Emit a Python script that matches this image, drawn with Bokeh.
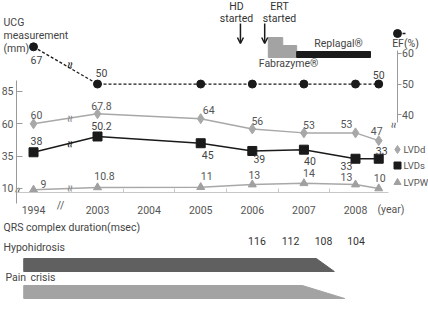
import math
from bokeh.plotting import figure
from bokeh.models import Range1d, LinearAxis, FixedTicker, Arrow, OpenHead
from bokeh.core.properties import value
from bokeh.embed import file_html
from bokeh.resources import INLINE

# ---------------- data ----------------
years = [1994, 2003, 2005, 2006, 2007, 2008, 2008.45]
ef = [67, 50, 50, 50, 50, 50, 50]
ef_labelled = [True, True, False, False, False, False, True]
lvdd = [60, 67.8, 64, 56, 53, 53, 47]
lvds = [38, 50.2, 45, 39, 40, 33, 33]
lvpw = [9, 10.8, 11, 13, 14, 13, 10]
axis_years = [1994, 2003, 2004, 2005, 2006, 2007, 2008]
lv_ticks = [10, 35, 60, 85]
ef_ticks = [40, 50, 60]
qrs = [116, 112, 108, 104]
qrs_years = [2006.09, 2006.74, 2007.38, 2008.01]
hd_start = 2005.77
ert_start = 2006.24
fabrazyme = [2006.31, 2006.59, 2006.86]   # start, dose step, switch
replagal = [2006.86, 2008.29]
timeline_start = 2001.57
hypohidrosis_end = [2007.24, 2007.59]
pain_end = [2006.97, 2007.79]

# ---------------- axis breaks ----------------
def xpos(y):
    return y if y >= 2003 else 2003 - 1.24

def efpos(v):
    return v if v <= 60 else 60 + (v - 60) * 0.3

FNAME = "Roboto"
FONT = value(FNAME)
FS = "10.5px"
X0, PXX = 2001.12, 51.6

p = figure(width=428, height=311, x_range=Range1d(X0, X0 + 428 / PXX),
           y_range=Range1d(-85.15, 155.38), x_axis_type=None, y_axis_type=None,
           toolbar_location=None, output_backend="svg", min_border=0,
           outline_line_color=None)
p.extra_y_ranges = {"ef": Range1d(-23.97, 77.17), "px": Range1d(311, 0)}
p.extra_x_ranges = {"pxx": Range1d(0, 428)}

def style_axis(a):
    a.axis_line_color = "#9a9a9a"
    a.major_tick_line_color = "#9a9a9a"
    a.minor_tick_line_color = None
    a.major_label_text_color = "#555555"
    a.major_label_text_font = FNAME
    a.major_label_text_font_size = FS

ly = LinearAxis(fixed_location=X0 + 16 / PXX, bounds=(-1.6, 93.5),
                ticker=FixedTicker(ticks=lv_ticks))
style_axis(ly)
ly.major_tick_in = 6
ly.major_tick_out = 0
ly.major_label_standoff = 3
p.add_layout(ly, "left")

ry = LinearAxis(y_range_name="ef", fixed_location=X0 + 396.5 / PXX, bounds=(37.5, 60.9),
                ticker=FixedTicker(ticks=ef_ticks))
style_axis(ry)
ry.major_tick_in = 0
ry.major_tick_out = 4
ry.major_label_standoff = 1
p.add_layout(ry, "right")

xt = [xpos(y) for y in axis_years]
xa = LinearAxis(fixed_location=6.9, bounds=(X0 + 16 / PXX, X0 + 388 / PXX),
                ticker=FixedTicker(ticks=xt, minor_ticks=[y + 0.5 for y in axis_years[1:-1]]))
style_axis(xa)
xa.axis_line_color = "#c8c8c8"
xa.major_tick_line_color = None
xa.minor_tick_line_color = "#c8c8c8"
xa.minor_tick_in = 4
xa.minor_tick_out = 0
xa.major_label_standoff = 8
xa.major_label_overrides = {x: str(y) for x, y in zip(xt, axis_years)}
p.add_layout(xa, "below")

xs = [xpos(y) for y in years]

def labels(vals, dx, dy, color, y_range_name="default", show=None):
    idx = [i for i in range(len(vals)) if show is None or show[i]]
    yv = [efpos(vals[i]) if y_range_name == "ef" else vals[i] for i in idx]
    p.text([xs[i] for i in idx], yv, text=[f"{vals[i]:g}" for i in idx],
           x_offset=[dx[i] for i in idx], y_offset=[dy[i] for i in idx],
           text_font=FONT, text_font_size=FS, text_color=color,
           text_align="center", text_baseline="middle", y_range_name=y_range_name)

# EF (dashed)
efp = [efpos(v) for v in ef]
p.line(xs, efp, color="#1a1a1a", line_width=1.3, line_dash="3 2", y_range_name="ef")
p.scatter(xs, efp, marker="circle", size=8, color="#1a1a1a", y_range_name="ef")
labels(ef, [3, 4, 0, 0, 0, 0, 0], [13, -11, 0, 0, 0, 0, -9], "#444444", "ef", show=ef_labelled)

# LVDd
p.line(xs, lvdd, color="#a8a8a8", line_width=1.5)
p.scatter(xs, lvdd, marker="diamond", size=10, color="#a8a8a8")
labels(lvdd, [3, 4, 8, 5, 5, -9, -2], [-9, -8, -9, -8, -8, -9, -10], "#555555")

# LVDs
p.line(xs, lvds, color="#1a1a1a", line_width=1.5)
p.scatter(xs, lvds, marker="square", size=9, color="#1a1a1a")
labels(lvds, [3, 4, 7, 7, 6, -9, 3], [-11, -10, 12, 8, 11, 7, -8], "#444444")

# LVPW
p.line(xs, lvpw, color="#a8a8a8", line_width=1.5)
p.scatter(xs, lvpw, marker="triangle", size=8, color="#a0a0a0")
labels(lvpw, [10, 7, 6, 2, 5, -9, 1], [-6, -11, -11, -10, -10, -8, -10], "#555555")

# break marks on series between 1994 and 2003
xm = (xs[0] + xs[1]) / 2 + 0.08
for ser, col, rn in [(efp, "#1a1a1a", "ef"), (lvdd, "#888888", "default"),
                     (lvds, "#1a1a1a", "default"), (lvpw, "#888888", "default")]:
    p.text([xm], [(ser[0] + ser[1]) / 2], text=["≈"], angle=math.pi / 2,
           text_font=FONT, text_font_size="13px", text_color=col,
           text_align="center", text_baseline="middle", y_range_name=rn)

# axis break marks
p.text([17, 393], [190, 125], text=["≈", "≈"], angle=math.pi / 2, text_font=FONT,
       text_font_size="11px", text_color="#555555", text_align="center",
       text_baseline="middle", x_range_name="pxx", y_range_name="px")
p.text([60], [205], text=["//"], text_font=FONT, text_font_size=FS,
       text_color="#555555", text_align="center", text_baseline="middle",
       x_range_name="pxx", y_range_name="px")
p.text([377], [209], text=["(year)"], text_font=FONT, text_font_size=FS,
       text_color="#555555", text_align="left", text_baseline="middle",
       x_range_name="pxx", y_range_name="px")

# legend
p.scatter([397], [149], marker="diamond", size=8, color="#a8a8a8", x_range_name="pxx", y_range_name="px")
p.scatter([397], [165], marker="square", size=7, color="#1a1a1a", x_range_name="pxx", y_range_name="px")
p.scatter([397], [182], marker="triangle", size=7, color="#a0a0a0", x_range_name="pxx", y_range_name="px")
p.text([403, 403, 403], [149, 165, 182], text=["LVDd", "LVDs", "LVPW"], text_font=FONT,
       text_font_size="9.5px", text_color="#555555", text_align="left", text_baseline="middle",
       x_range_name="pxx", y_range_name="px")
p.line([397, 407], [33, 33], color="#1a1a1a", line_width=1.3, line_dash="3 2",
       x_range_name="pxx", y_range_name="px")
p.scatter([397], [33], marker="circle", size=8, color="#1a1a1a", x_range_name="pxx", y_range_name="px")
p.text([405], [43], text=["EF(%)"], text_font=FONT, text_font_size=FS, text_color="#444444",
       text_align="center", text_baseline="middle", x_range_name="pxx", y_range_name="px")

# left titles
p.text([3, 3, 3, 3, 3, 5, 30], [22, 35, 48, 227, 247, 277, 277],
       text=["UCG", "measurement", "(mm)", "QRS complex duration(msec)", "Hypohidrosis", "Pain", "crisis"],
       text_font=FONT, text_font_size=FS, text_color="#444444", text_align="left",
       text_baseline="middle", x_range_name="pxx", y_range_name="px")

# treatment annotations
p.text([236, 236, 279, 279], [6, 18, 6, 18], text=["HD", "started", "ERT", "started"],
       text_font=FONT, text_font_size=FS, text_color="#333333", text_align="center",
       text_baseline="middle", x_range_name="pxx", y_range_name="px")
for xe in [hd_start, ert_start]:
    p.add_layout(Arrow(x_start=xe, y_start=23, x_end=xe, y_end=43, y_range_name="px",
                       line_width=1.5, line_color="#1a1a1a",
                       end=OpenHead(size=6, line_width=1.5, line_color="#1a1a1a")))
p.quad(left=[fabrazyme[0], fabrazyme[1]], right=[fabrazyme[1], fabrazyme[2]],
       top=[37, 45], bottom=[57, 57], color="#a3a3a3", y_range_name="px")
p.quad(left=[replagal[0]], right=[replagal[1]], top=[51], bottom=[57], color="#1a1a1a",
       y_range_name="px")
p.text([338, 288], [43, 63], text=["Replagal®", "Fabrazyme®"], text_font=FONT,
       text_font_size=FS, text_color="#444444", text_align="center", text_baseline="middle",
       x_range_name="pxx", y_range_name="px")

# QRS values
p.text(qrs_years, [240] * len(qrs), text=[str(v) for v in qrs], text_font=FONT,
       text_font_size=FS, text_color="#333333", text_align="center", text_baseline="middle",
       y_range_name="px")

# symptom bars
p.patch([timeline_start, hypohidrosis_end[0], hypohidrosis_end[1], timeline_start],
        [258, 258, 271, 271], color="#606060", y_range_name="px")
p.patch([timeline_start, pain_end[0], pain_end[1], timeline_start],
        [285, 285, 298, 298], color="#a3a3a3", y_range_name="px")

open("out.html", "w").write(file_html(p, INLINE))
